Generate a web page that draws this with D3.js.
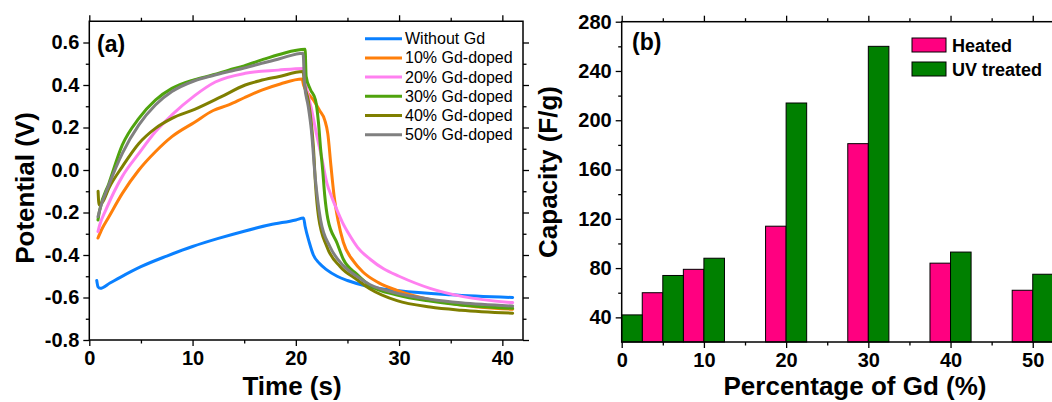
<!DOCTYPE html>
<html>
<head>
<meta charset="utf-8">
<script src="https://cdn.jsdelivr.net/npm/d3@7"></script>
<style>
  body { margin: 0; background: #fff; }
  svg { display: block; font-family: "Liberation Sans", Arial, sans-serif; }
  .tick text { font-weight: bold; font-size: 20px; fill: #000; }
  .tick line { stroke: #000; stroke-width: 1.3; }
</style>
</head>
<body>
<div id="chart"></div>
<script>
// ---- panel (a): charge/discharge curves, [time (s), potential (V)]
const seriesNames = ["Without Gd", "10% Gd-doped", "20% Gd-doped", "30% Gd-doped", "40% Gd-doped", "50% Gd-doped"];
const seriesColors = ["#0a80ff", "#ff7f0a", "#ff80f0", "#4fa30d", "#7f7f00", "#808080"];

const withoutGd = [[0.72,-0.52],[0.85,-0.55],[1.05,-0.557],[2,-0.532],[3,-0.505],[5,-0.455],[7.5,-0.405],[10,-0.36],[12.5,-0.322],[15,-0.288],[17.5,-0.258],[20,-0.235],[20.75,-0.226],[20.9,-0.265],[21.3,-0.34],[21.7,-0.40],[22.3,-0.44],[23,-0.47],[24,-0.50],[25,-0.52],[27,-0.548],[30,-0.568],[35,-0.587],[41,-0.60]];
const gd10 = [[0.84,-0.32],[1.2,-0.28],[1.9,-0.22],[3.2,-0.11],[4.8,0.0],[6.4,0.086],[8,0.157],[10.2,0.225],[12,0.28],[13.5,0.306],[15,0.34],[16.7,0.376],[18.5,0.405],[20.6,0.428],[20.75,0.40],[21.2,0.36],[21.7,0.33],[22.3,0.28],[22.8,0.235],[23.1,0.17],[23.4,0.02],[23.7,-0.12],[24.1,-0.24],[24.6,-0.34],[25.6,-0.43],[26.5,-0.48],[28,-0.53],[30,-0.57],[33,-0.61],[36,-0.635],[41,-0.655]];
const gd20 = [[0.84,-0.29],[1.0,-0.26],[1.6,-0.188],[3.2,-0.03],[4.8,0.078],[6.4,0.18],[8,0.259],[10.2,0.35],[12.2,0.414],[15.1,0.455],[18.3,0.47],[20.7,0.478],[20.85,0.44],[21.1,0.37],[21.5,0.29],[22.0,0.17],[22.5,0.06],[23.0,-0.06],[23.5,-0.13],[24.0,-0.19],[24.5,-0.245],[25.3,-0.314],[26,-0.365],[27.2,-0.42],[28.5,-0.465],[30,-0.50],[33,-0.557],[36.2,-0.596],[41,-0.624]];
const gd30 = [[0.84,-0.235],[1.0,-0.19],[1.9,-0.063],[3.2,0.118],[4.8,0.243],[6.4,0.329],[8,0.384],[10.2,0.425],[12,0.448],[13.5,0.47],[15,0.49],[16.7,0.518],[18.5,0.545],[20.9,0.568],[21.0,0.44],[21.4,0.38],[21.9,0.33],[22.2,0.22],[22.4,0.10],[22.6,0.0],[22.8,-0.12],[23.1,-0.23],[24.0,-0.345],[24.6,-0.42],[25.9,-0.49],[27.2,-0.545],[29.8,-0.588],[33,-0.617],[36,-0.635],[41,-0.651]];
const gd40 = [[0.85,-0.10],[0.95,-0.165],[1.3,-0.15],[1.9,-0.085],[3.2,0.016],[4.8,0.125],[6.4,0.196],[8,0.243],[10.2,0.285],[12.8,0.345],[15.1,0.40],[16.5,0.42],[18.3,0.439],[20.7,0.463],[20.85,0.40],[21.2,0.33],[21.5,0.22],[21.7,0.11],[21.9,-0.063],[22.2,-0.22],[23.0,-0.36],[24.3,-0.455],[25.9,-0.515],[27.2,-0.56],[29.8,-0.615],[33,-0.645],[36,-0.66],[41,-0.674]];
const gd50 = [[0.84,-0.22],[1.0,-0.19],[1.9,-0.07],[3.2,0.078],[4.8,0.212],[6.4,0.306],[8,0.369],[10.2,0.42],[12,0.445],[13.5,0.463],[15,0.48],[16.7,0.502],[18.5,0.525],[20.7,0.55],[20.85,0.40],[21.2,0.30],[21.5,0.19],[21.9,-0.047],[22.4,-0.235],[23.3,-0.36],[24.6,-0.45],[25.9,-0.50],[27.2,-0.54],[29.8,-0.58],[33,-0.608],[36,-0.625],[41,-0.64]];
const curves = [withoutGd, gd10, gd20, gd30, gd40, gd50];

const timeTicks = [0, 10, 20, 30, 40];
const timeMinor = [5, 15, 25, 35];
const potTicks = [-0.8, -0.6, -0.4, -0.2, 0.0, 0.2, 0.4, 0.6];
const potMinor = [-0.7, -0.5, -0.3, -0.1, 0.1, 0.3, 0.5];

// ---- panel (b): capacity bars
const gdPercent = [0, 5, 10, 20, 30, 40, 50];
const heated = [null, 60, 79, 114, 181, 84, 62];
const uvTreated = [42, 74, 88, 214, 260, 93, 75];
const pctTicks = [0, 10, 20, 30, 40, 50];
const pctMinor = [5, 15, 25, 35, 45];
const capTicks = [40, 80, 120, 160, 200, 240, 280];
const capMinor = [60, 100, 140, 180, 220, 260];

const W = 1052, H = 402;
const svg = d3.select("#chart").append("svg").attr("width", W).attr("height", H);

function frameAxes(g, x, y, o) {
    const [x0, x1] = x.range(), [y0, y1] = y.range();
    const mk = (axis, tr, vals, size, labels) => {
        const a = axis.tickValues(vals).tickSize(size).tickSizeOuter(0).tickPadding(4);
        if (!labels) a.tickFormat("");
        const s = g.append("g").attr("transform", tr).call(a);
        s.select(".domain").remove();
        return s;
    };
    mk(d3.axisBottom(x), `translate(0,${y0})`, o.xt, 6, true).selectAll("text").attr("dy", "0.75em");
    mk(d3.axisBottom(x), `translate(0,${y0})`, o.xm, 3.5, false);
    mk(d3.axisTop(x), `translate(0,${y1})`, o.xt, 6, false);
    mk(d3.axisTop(x), `translate(0,${y1})`, o.xm, 3.5, false);
    const yl = d3.axisLeft(y);
    if (o.yfmt) yl.tickFormat(o.yfmt);
    const s = g.append("g").call(yl.tickValues(o.yt).tickSize(6).tickSizeOuter(0).tickPadding(4))
        .attr("transform", `translate(${x0},0)`);
    s.select(".domain").remove();
    mk(d3.axisLeft(y), `translate(${x0},0)`, o.ym, 3.5, false);
    mk(d3.axisRight(y), `translate(${x1},0)`, o.yt, 6, false);
    mk(d3.axisRight(y), `translate(${x1},0)`, o.ym, 3.5, false);
    g.append("rect").attr("x", x0).attr("y", y1).attr("width", x1 - x0).attr("height", y0 - y1)
        .attr("fill", "none").attr("stroke", "#000").attr("stroke-width", 1.5);
}

// ---------- panel (a)
const xA = d3.scaleLinear().domain([0, 42]).range([89.3, 523]);
const yA = d3.scaleLinear().domain([-0.8, 0.7]).range([340, 21.25]);
const gA = svg.append("g");

const line = d3.line().x(d => xA(d[0])).y(d => yA(d[1])).curve(d3.curveMonotoneX);
gA.append("g").selectAll("path").data(curves).enter().append("path")
    .attr("d", line).attr("fill", "none")
    .attr("stroke", (d, i) => seriesColors[i]).attr("stroke-width", 3)
    .attr("stroke-linejoin", "round").attr("stroke-linecap", "round");

frameAxes(gA, xA, yA, {xt: timeTicks, xm: timeMinor, yt: potTicks, ym: potMinor, yfmt: d => d.toFixed(1)});

gA.append("text").attr("x", 97).attr("y", 52).attr("font-size", 23).attr("font-weight", "bold").text("(a)");
gA.append("text").attr("x", 292).attr("y", 395).attr("text-anchor", "middle")
    .attr("font-size", 26).attr("font-weight", "bold").text("Time (s)");
gA.append("text").attr("transform", "translate(34,188) rotate(-90)").attr("text-anchor", "middle")
    .attr("font-size", 26).attr("font-weight", "bold").text("Potential (V)");

const legA = gA.append("g").selectAll("g").data(seriesNames).enter().append("g")
    .attr("transform", (d, i) => `translate(365,${38.7 + i * 19.2})`);
legA.append("line").attr("x1", 0).attr("x2", 37).attr("stroke-width", 3)
    .attr("stroke", (d, i) => seriesColors[i]);
legA.append("text").attr("x", 40).attr("y", 5.5).attr("font-size", 16).text(d => d);

// ---------- panel (b)
const xB = d3.scaleLinear().domain([0, 52.5]).range([621.7, 1053.3]);
const yB = d3.scaleLinear().domain([20, 280]).range([342, 21.7]);
const gB = svg.append("g");
const bw = 2.5;

const bars = gB.append("g").attr("stroke", "#000").attr("stroke-width", 1);
bars.selectAll("rect.h").data(gdPercent.map((p, i) => ({p, v: heated[i]})).filter(d => d.v != null))
    .enter().append("rect").attr("class", "h")
    .attr("x", d => xB(d.p - bw)).attr("width", d => xB(d.p) - xB(d.p - bw))
    .attr("y", d => yB(d.v)).attr("height", d => yB(20) - yB(d.v)).attr("fill", "#ff0080");
bars.selectAll("rect.u").data(gdPercent.map((p, i) => ({p, v: uvTreated[i]})))
    .enter().append("rect").attr("class", "u")
    .attr("x", d => xB(d.p)).attr("width", d => xB(d.p + bw) - xB(d.p))
    .attr("y", d => yB(d.v)).attr("height", d => yB(20) - yB(d.v)).attr("fill", "#008000");

frameAxes(gB, xB, yB, {xt: pctTicks, xm: pctMinor, yt: capTicks, ym: capMinor});

gB.append("text").attr("x", 632).attr("y", 50).attr("font-size", 23).attr("font-weight", "bold").text("(b)");
gB.append("text").attr("x", 855).attr("y", 395).attr("text-anchor", "middle")
    .attr("font-size", 26).attr("font-weight", "bold").text("Percentage of Gd (%)");
gB.append("text").attr("transform", "translate(557,172) rotate(-90)").attr("text-anchor", "middle")
    .attr("font-size", 26).attr("font-weight", "bold").text("Capacity (F/g)");

const legB = [["Heated", "#ff0080"], ["UV treated", "#008000"]];
const lb = gB.append("g").selectAll("g").data(legB).enter().append("g")
    .attr("transform", (d, i) => `translate(912,${38 + i * 24})`);
lb.append("rect").attr("width", 34).attr("height", 14).attr("fill", d => d[1])
    .attr("stroke", "#000").attr("stroke-width", 1);
lb.append("text").attr("x", 40).attr("y", 13.5).attr("font-size", 18).attr("font-weight", "bold").text(d => d[0]);
</script>
</body>
</html>
